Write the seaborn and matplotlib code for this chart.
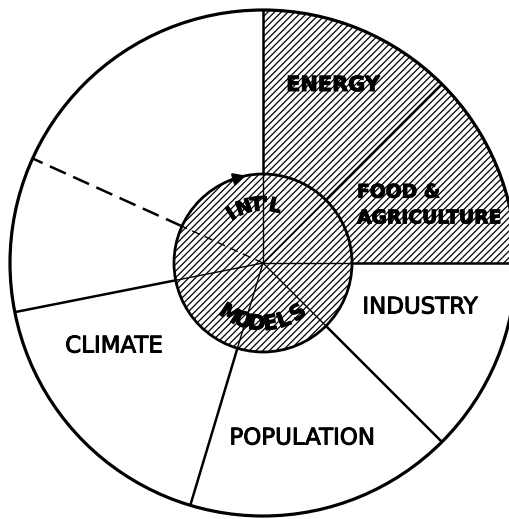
import numpy as np
import matplotlib
matplotlib.use("Agg")
import matplotlib.pyplot as plt
import matplotlib.patheffects as pe
import seaborn as sns
from matplotlib.patches import Circle

# ---- data: sectors counter-clockwise from 3 o'clock (degrees of arc) ----
sector_labels = ["FOOD &\nAGRICULTURE", "ENERGY", "", "", "CLIMATE", "POPULATION", "INDUSTRY"]
sector_degrees = [45.0, 45.0, 65.6, 35.6, 62.1, 61.7, 45.0]
sector_shaded = [True, True, False, False, False, False, False]
dashed_boundary = [False, False, False, True, False, False, False]  # boundary at start of sector
inner_top_text = "INT'L"
inner_bottom_text = "MODELS"

sns.set_theme(style="white")
plt.rcParams["hatch.linewidth"] = 0.9
plt.rcParams["font.family"] = ["DejaVu Sans"]

W, H = 510, 519
fig = plt.figure(figsize=(W / 100, H / 100), dpi=100)
ax = fig.add_axes([0, 0, 1, 1])

cx, cy = 263, 256
R = 253
r_in = 89
HATCH = "/////"

wedges, _ = ax.pie(
    sector_degrees, center=(cx, cy), radius=R, startangle=0, counterclock=True,
    colors=["white"] * len(sector_degrees),
    hatch=[HATCH if s else "" for s in sector_shaded],
    wedgeprops=dict(linewidth=0, edgecolor="black"), frame=True,
)
for w in wedges:
    w.set_zorder(1)

# inner hatched disc
ax.add_patch(Circle((cx, cy), r_in, facecolor="white", edgecolor="black",
                    hatch=HATCH, linewidth=0, zorder=2))

# spokes
bounds = np.concatenate([[0], np.cumsum(sector_degrees)[:-1]])
for ang, dsh in zip(bounds, dashed_boundary):
    t = np.deg2rad(ang)
    c, s = np.cos(t), np.sin(t)
    ls_out = (0, (7, 3.2)) if dsh else "-"
    ls_in = (0, (6, 4)) if dsh else "-"
    ax.plot([cx + r_in * c, cx + R * c], [cy + r_in * s, cy + R * s],
            color="black", lw=1.8, ls=ls_out, solid_capstyle="butt", zorder=3)
    ax.plot([cx, cx + r_in * c], [cy, cy + r_in * s],
            color="black", lw=1.0, ls=ls_in, solid_capstyle="butt", zorder=3)

# circle outlines
ax.add_patch(Circle((cx, cy), r_in, fill=False, edgecolor="black", linewidth=2.0, zorder=4))
ax.add_patch(Circle((cx, cy), R, fill=False, edgecolor="black", linewidth=2.3, zorder=4))

# arrow on inner circle
a0, a1 = np.deg2rad(112), np.deg2rad(101)
ax.annotate("", xy=(cx + r_in * np.cos(a1), cy + r_in * np.sin(a1)),
            xytext=(cx + r_in * np.cos(a0), cy + r_in * np.sin(a0)),
            arrowprops=dict(arrowstyle="-|>", color="black", lw=1.8, mutation_scale=18,
                            shrinkA=0, shrinkB=0), zorder=5)

thick = [pe.withStroke(linewidth=0.7, foreground="black")]

# sector labels
label_pos = {
    "ENERGY": (333, 434, "center", 15, "heavy", 1.2),
    "FOOD &\nAGRICULTURE": (357, 314, "left", 13.5, "heavy", 1.45),
    "INDUSTRY": (420, 212, "center", 16.5, "normal", 1.2),
    "POPULATION": (302, 81, "center", 16.5, "normal", 1.2),
    "CLIMATE": (114, 173, "center", 16.5, "normal", 1.2),
}
for lab in sector_labels:
    if lab in label_pos:
        x, y, ha, fs, fw, lsp = label_pos[lab]
        ax.text(x, y, lab, ha=ha, va="center", fontsize=fs, fontweight=fw,
                color="black", linespacing=lsp, zorder=6, path_effects=thick)


def arc_text(text, r, angles, top_out, fs):
    for ch, th in zip(text, angles):
        t = np.deg2rad(th)
        rot = th - 90 if top_out else th + 90
        ax.text(cx + r * np.cos(t), cy + r * np.sin(t), ch, rotation=rot,
                rotation_mode="anchor", ha="center", va="center",
                fontsize=fs, fontweight="heavy", color="black", zorder=6,
                path_effects=thick)


arc_text(inner_top_text, 58, [123, 109, 96, 88, 78], True, 14)
arc_text(inner_bottom_text, 61, [237, 251, 264, 277, 290, 305], False, 15)

ax.set_xlim(0, W)
ax.set_ylim(0, H)
ax.set_aspect("equal")
ax.axis("off")
fig.savefig("out.png", dpi=100)
